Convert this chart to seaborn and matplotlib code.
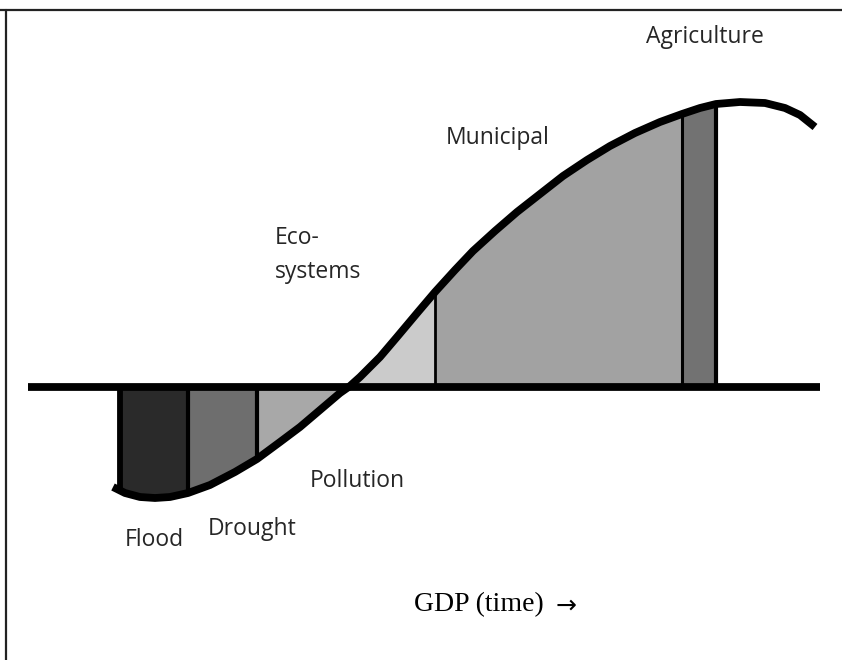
import numpy as np
import pandas as pd
import matplotlib
matplotlib.use("Agg")
import matplotlib.pyplot as plt
import seaborn as sns
from matplotlib.lines import Line2D

# ---------------- data ----------------
curve_x = [113, 125, 140, 155, 170, 188, 210, 235, 257, 280, 300, 320, 340, 350,
           360, 380, 397, 418, 435, 455, 473, 495, 517, 540, 563, 587, 610, 635,
           660, 682, 700, 716, 740, 765, 785, 800, 815]
curve_y = [-100, -106, -110, -111, -110, -106, -98, -85, -72, -55, -40, -23, -6, 1,
           10, 30, 50, 75, 95, 117, 136, 156, 175, 193, 211, 227, 241, 254,
           265, 273, 279, 283, 285, 284, 279, 272, 260]

sectors = ["Flood", "Drought", "Pollution", "Eco-\nsystems", "Municipal", "Agriculture"]
sector_start = [120, 188, 257, 348, 435, 682]
sector_end = [188, 257, 348, 435, 682, 716]
dividers = [120, 188, 257, 435, 682, 716]
xlabel_words = "GDP (time)"
xlabel_arrow = "\u2192"

# ---------------- style / layout ----------------
sector_colors = ["#2a2a2a", "#6e6e6e", "#a8a8a8", "#cbcbcb", "#a2a2a2", "#727272"]
divider_widths = [4.2, 3.0, 3.0, 2.0, 2.2, 3.0]
label_pos = [(154, -153), (252, -142), (357, -94), (275, 132), (498, 249), (705, 350)]
label_ha = ["center", "center", "center", "left", "center", "center"]

sns.set_theme(style="white")
plt.rcParams["font.family"] = ["Open Sans", "DejaVu Sans"]

fig = plt.figure(figsize=(8.42, 6.60), dpi=100)
ax = fig.add_axes([0, 0, 1, 1])
ax.set_xlim(0, 842)
ax.set_ylim(-273, 387)
ax.axis("off")

cx = np.array(curve_x, dtype=float)
cy = np.array(curve_y, dtype=float)

# filled sectors
for s, e, col in zip(sector_start, sector_end, sector_colors):
    inside = (cx > s) & (cx < e)
    xs = np.concatenate([[s], cx[inside], [e]])
    ys = np.interp(xs, cx, cy)
    ax.fill_between(xs, 0, ys, color=col, linewidth=0, zorder=1)

# dividers
for d, w in zip(dividers, divider_widths):
    ax.plot([d, d], [0, np.interp(d, cx, cy)], color="black", lw=w,
            solid_capstyle="butt", zorder=2)

# horizontal axis line
axis_df = pd.DataFrame({"x": [28, 820], "y": [0, 0]})
sns.lineplot(data=axis_df, x="x", y="y", ax=ax, color="black", lw=5.6,
             zorder=3, estimator=None)
ax.lines[-1].set_solid_capstyle("butt")

# curve
curve_df = pd.DataFrame({"x": curve_x, "y": curve_y})
sns.lineplot(data=curve_df, x="x", y="y", ax=ax, color="black", lw=5.6,
             zorder=4, estimator=None, sort=False)
ax.lines[-1].set_solid_capstyle("butt")
ax.lines[-1].set_solid_joinstyle("round")

# labels
for name, (lx, ly), ha in zip(sectors, label_pos, label_ha):
    ax.text(lx, ly, name, ha=ha, va="center", fontsize=16.5, color="#262626",
            linespacing=1.6, zorder=5)

ax.text(479, -218, xlabel_words, ha="center", va="center", fontsize=20,
        color="black", family=["Liberation Serif", "DejaVu Serif"])
ax.text(566, -219, xlabel_arrow, ha="center", va="center", fontsize=18,
        color="black", family=["DejaVu Sans"])

# frame lines (top and left only)
fig.add_artist(Line2D([0, 1], [1 - 9.5 / 660, 1 - 9.5 / 660],
                      transform=fig.transFigure, color="#222222", lw=1.6))
fig.add_artist(Line2D([5.5 / 842, 5.5 / 842], [0, 1 - 9.5 / 660],
                      transform=fig.transFigure, color="#222222", lw=1.6))

fig.savefig("out.png", dpi=100, facecolor="white")
